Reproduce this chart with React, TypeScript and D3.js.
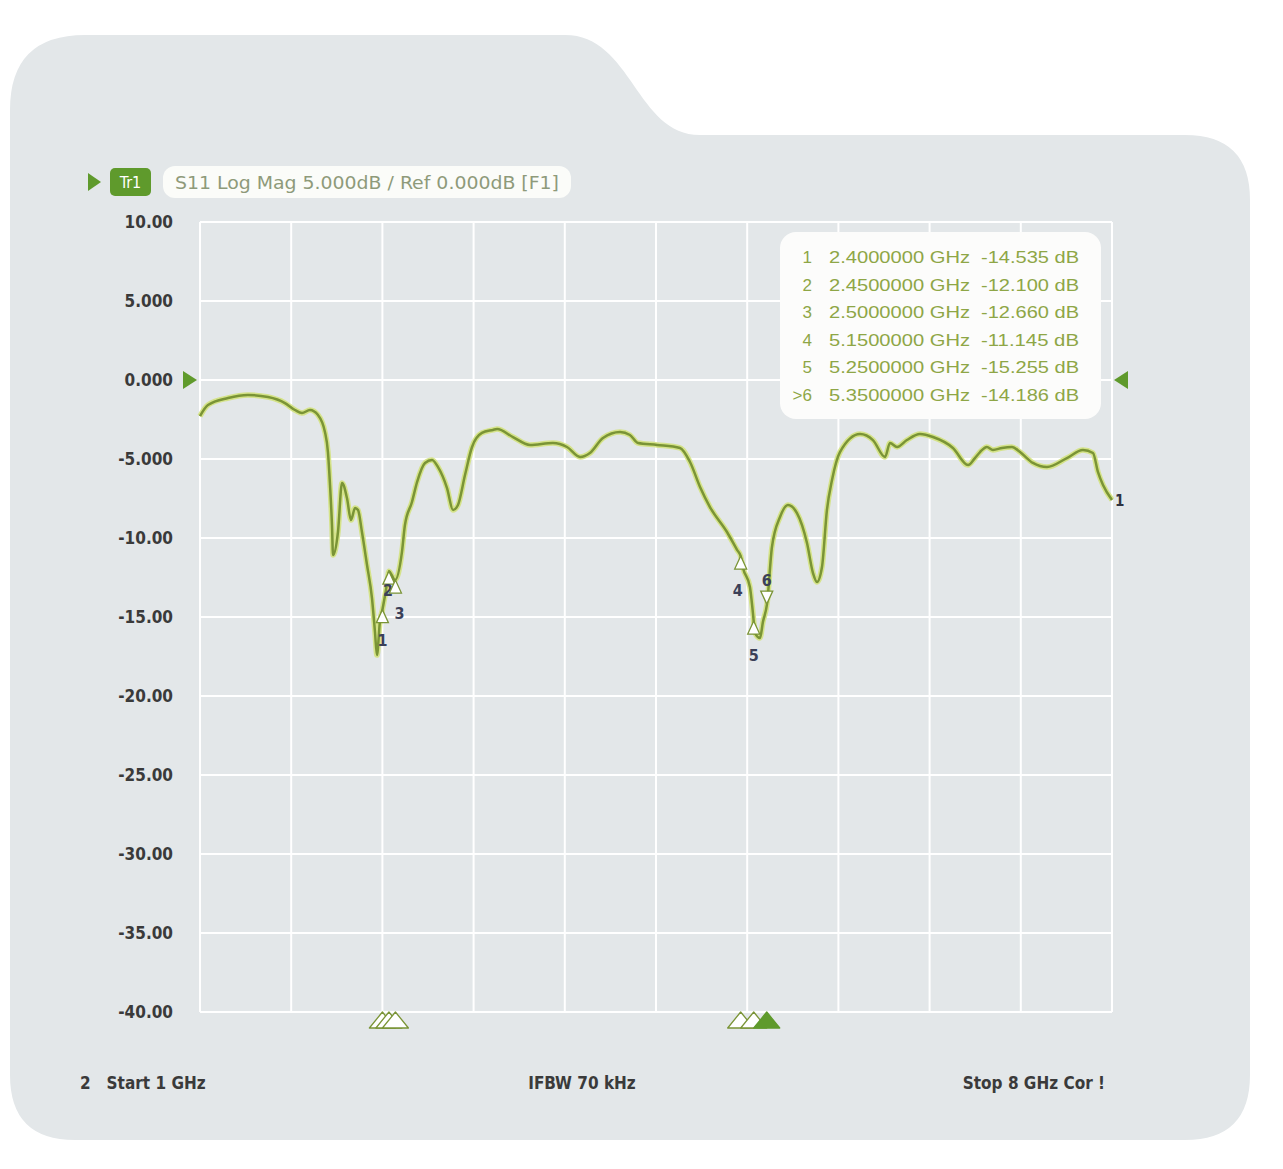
import React from "react";
import * as d3 from "d3";

// ---- Data ----
const freqGHz = [
  1.0, 1.061, 1.215, 1.368, 1.522, 1.652, 1.729, 1.783, 1.844, 1.906, 1.959, 1.982, 1.998, 2.013, 2.021,
  2.059, 2.09, 2.128, 2.159, 2.19, 2.213, 2.243, 2.282, 2.32, 2.343, 2.358, 2.382, 2.4, 2.435, 2.45, 2.497,
  2.55, 2.573, 2.627, 2.666, 2.727, 2.781, 2.827, 2.896, 2.942, 2.98, 3.034, 3.088, 3.164, 3.249, 3.28,
  3.402, 3.533, 3.709, 3.817, 3.917, 3.993, 4.093, 4.224, 4.3, 4.362, 4.508, 4.684, 4.761, 4.838, 4.914,
  5.045, 5.122, 5.15, 5.168, 5.221, 5.244, 5.26, 5.298, 5.321, 5.352, 5.39, 5.452, 5.513, 5.582, 5.659,
  5.705, 5.736, 5.774, 5.812, 5.851, 5.912, 6.066, 6.165, 6.258, 6.296, 6.35, 6.426, 6.526, 6.626, 6.779,
  6.895, 6.948, 6.987, 7.04, 7.086, 7.156, 7.232, 7.294, 7.393, 7.501, 7.654, 7.777, 7.854, 7.892, 7.931, 8.0,
];
const s11dB = [
  -2.28, -1.58, -1.14, -0.95, -1.08, -1.46, -1.9, -2.09, -1.9, -2.22, -3.29, -4.56, -6.65, -9.18, -11.08,
  -9.62, -6.52, -7.47, -8.86, -8.1, -8.23, -9.62, -11.71, -13.8, -15.95, -17.41, -15.2, -14.54, -12.9, -12.1, -12.66,
  -10.89, -9.18, -7.72, -6.46, -5.25, -5.06, -5.51, -6.84, -8.23, -7.91, -6.01, -4.24, -3.35, -3.16, -3.1,
  -3.61, -4.11, -3.99, -4.24, -4.87, -4.62, -3.67, -3.29, -3.48, -3.99, -4.11, -4.3, -5.19, -6.77, -8.04,
  -9.62, -10.75, -11.15, -11.9, -13.1, -14.75, -16.01, -16.33, -15.3, -14.19, -10.57, -8.67, -7.91, -8.42, -10.32,
  -12.22, -12.78, -11.84, -8.23, -6.33, -4.56, -3.42, -3.8, -4.87, -3.99, -4.24, -3.8, -3.42, -3.61, -4.3,
  -5.38, -4.94, -4.56, -4.24, -4.43, -4.3, -4.24, -4.56, -5.25, -5.51, -4.94, -4.43, -4.62, -5.82, -6.65, -7.59,
];

const markerIds = ["1", "2", "3", "4", "5", "6"];
const markerFreqGHz = [2.4, 2.45, 2.5, 5.15, 5.25, 5.35];
const markerDb = [-14.535, -12.1, -12.66, -11.145, -15.255, -14.186];
const markerTableIds = ["1", "2", "3", "4", "5", ">6"];
const markerFreqLabels = ["2.4000000 GHz", "2.4500000 GHz", "2.5000000 GHz", "5.1500000 GHz", "5.2500000 GHz", "5.3500000 GHz"];
const markerDbLabels = ["-14.535 dB", "-12.100 dB", "-12.660 dB", "-11.145 dB", "-15.255 dB", "-14.186 dB"];
const activeMarker = 5; // index of marker 6

const yTicks = [10, 5, 0, -5, -10, -15, -20, -25, -30, -35, -40];
const yTickLabels = ["10.00", "5.000", "0.000", "-5.000", "-10.00", "-15.00", "-20.00", "-25.00", "-30.00", "-35.00", "-40.00"];
const xGridGHz = [1, 1.7, 2.4, 3.1, 3.8, 4.5, 5.2, 5.9, 6.6, 7.3, 8];

const headerText = "S11  Log Mag  5.000dB / Ref 0.000dB [F1]";
const footerStart = "2   Start 1 GHz";
const footerMid = "IFBW 70 kHz";
const footerStop = "Stop 8 GHz Cor !";

// ---- Layout ----
const W = 1283;
const H = 1169;
const plotL = 200;
const plotR = 1112;
const plotT = 222;
const plotB = 1012;

// marker label placement offsets (dx, dy of baseline from the marker tip)
const labelOffsets: [number, number][] = [
  [0, 36],
  [-1, 25],
  [4, 39],
  [-3, 40],
  [0, 40],
  [0, -18],
];

const x = d3.scaleLinear().domain([1, 8]).range([plotL, plotR]);
const y = d3.scaleLinear().domain([10, -40]).range([plotT, plotB]);

const COND = "'Liberation Sans Narrow', 'DejaVu Sans Condensed', Roboto, sans-serif";

export default function App() {
  const pts: [number, number][] = freqGHz.map((f, i) => [f, s11dB[i]]);
  const line = d3
    .line<[number, number]>()
    .x((d) => x(d[0]))
    .y((d) => y(d[1]))
    .curve(d3.curveMonotoneX);
  const pathD = line(pts) || "";

  const panel =
    "M 10,110 Q 10,35 85,35 L 565,35 C 632,35 636,135 700,135 L 1185,135 Q 1250,135 1250,200 L 1250,1075 Q 1250,1140 1185,1140 L 75,1140 Q 10,1140 10,1075 Z";

  const tri = (cx: number, tipY: number, w: number, h: number, down: boolean) =>
    down
      ? `M ${cx},${tipY} L ${cx - w / 2},${tipY - h} L ${cx + w / 2},${tipY - h} Z`
      : `M ${cx},${tipY} L ${cx - w / 2},${tipY + h} L ${cx + w / 2},${tipY + h} Z`;

  const lineColor = "#7a9436";
  const glowColor = "#d3e27e";
  const tableColor = "#8ea646";

  return (
    <svg
      width={W}
      height={H}
      viewBox={`0 0 ${W} ${H}`}
      style={{ position: "absolute", left: 0, top: 0, background: "#ffffff" }}
    >
      <path d={panel} fill="#e3e7e9" />

      {/* grid */}
      <g>
        {yTicks.map((t) => (
          <line key={"h" + t} x1={plotL} x2={plotR} y1={y(t)} y2={y(t)} stroke="#ffffff" strokeWidth={2} />
        ))}
        {xGridGHz.map((f) => (
          <line key={"v" + f} x1={x(f)} x2={x(f)} y1={plotT} y2={plotB} stroke="#ffffff" strokeWidth={2} />
        ))}
      </g>

      {/* y tick labels */}
      <g fontFamily={COND} fontSize={17} fontWeight={700} fill="#3a3a3a" textAnchor="end">
        {yTicks.map((t, i) => (
          <text key={"yl" + t} x={173} y={y(t) + 6}>
            {yTickLabels[i]}
          </text>
        ))}
      </g>

      {/* reference triangles */}
      <path d={`M ${183},${y(0) - 9} L ${197},${y(0)} L ${183},${y(0) + 9} Z`} fill="#5f9a2c" />
      <path d={`M ${1128},${y(0) - 9} L ${1114},${y(0)} L ${1128},${y(0) + 9} Z`} fill="#5f9a2c" />

      {/* header */}
      <path d="M 88,173 L 101,182 L 88,191 Z" fill="#5f9a2c" />
      <rect x={110} y={168} width={41} height={28} rx={5} fill="#5f9a2c" />
      <text x={130.5} y={188} textAnchor="middle" fontFamily={COND} fontSize={16} fill="#ffffff">
        Tr1
      </text>
      <rect x={163} y={166} width={408} height={32} rx={12} fill="#fbfcf9" />
      <text x={175} y={189} fontFamily={COND} fontSize={18} fill="#8e9a7a" textLength={384} lengthAdjust="spacingAndGlyphs">
        {headerText}
      </text>

      {/* marker table */}
      <rect x={780} y={232} width={321} height={187} rx={16} fill="#fcfcfb" />
      <g fontFamily="'Liberation Sans', Arial, sans-serif" fontSize={17} fill={tableColor}>
        {markerTableIds.map((id, i) => {
          const by = 263 + i * 27.5;
          return (
            <g key={"row" + i}>
              <text x={812} y={by} textAnchor="end">
                {id}
              </text>
              <text x={829} y={by} textLength={141} lengthAdjust="spacingAndGlyphs">
                {markerFreqLabels[i]}
              </text>
              <text x={981} y={by} textLength={98} lengthAdjust="spacingAndGlyphs">
                {markerDbLabels[i]}
              </text>
            </g>
          );
        })}
      </g>

      {/* trace */}
      <path d={pathD} fill="none" stroke={glowColor} strokeWidth={5.5} strokeLinejoin="round" opacity={0.9} />
      <path d={pathD} fill="none" stroke={lineColor} strokeWidth={2.5} strokeLinejoin="round" />
      <text x={x(8) + 3} y={y(-7.59) + 6} fontFamily={COND} fontWeight={700} fontSize={15} fill="#2f3340">
        1
      </text>

      {/* markers on trace */}
      <g>
        {markerIds.map((id, i) => {
          const cx = x(markerFreqGHz[i]);
          const cy = y(markerDb[i]);
          const down = i === activeMarker;
          return (
            <g key={"m" + id}>
              <path d={tri(cx, cy, 12, 13, down)} fill="#ffffff" stroke={lineColor} strokeWidth={1.3} />
              <text
                x={cx + labelOffsets[i][0]}
                y={cy + labelOffsets[i][1]}
                textAnchor="middle"
                fontFamily={COND}
                fontWeight={700}
                fontSize={16}
                fill="#3b4058"
              >
                {id}
              </text>
            </g>
          );
        })}
      </g>

      {/* stimulus markers at the bottom */}
      <g>
        {markerIds.map((id, i) => {
          const cx = x(markerFreqGHz[i]);
          const active = i === activeMarker;
          return (
            <path
              key={"sm" + id}
              d={tri(cx, plotB, 26, 16, false)}
              fill={active ? "#5f9a2c" : "#ffffff"}
              stroke={active ? "#5f9a2c" : lineColor}
              strokeWidth={1.3}
              strokeLinejoin="round"
            />
          );
        })}
      </g>

      {/* footer */}
      <g fontFamily={COND} fontWeight={700} fontSize={17} fill="#3a3a3a">
        <text x={80} y={1089} xmlSpace="preserve">
          {footerStart}
        </text>
        <text x={582} y={1089} textAnchor="middle">
          {footerMid}
        </text>
        <text x={1105} y={1089} textAnchor="end">
          {footerStop}
        </text>
      </g>
    </svg>
  );
}
